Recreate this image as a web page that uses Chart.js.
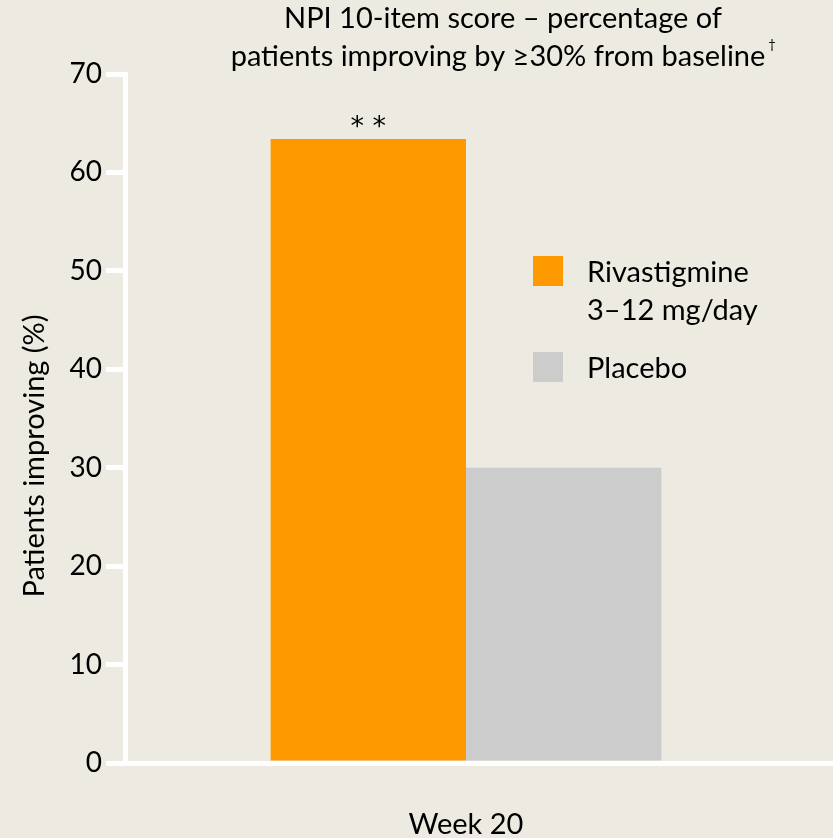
<!DOCTYPE html>
<html>
<head>
<meta charset="utf-8">
<script src="https://cdn.jsdelivr.net/npm/chart.js@4/dist/chart.umd.min.js"></script>
<style>
  html, body { margin: 0; padding: 0; background: #EDEBE1; }
  #wrap { width: 833px; height: 838px; position: relative; }
</style>
</head>
<body>
<div id="wrap"><canvas id="chart" width="833" height="838"></canvas></div>
<script>
// Chart content
const categories = ['Week 20'];
const seriesNames = [['Rivastigmine', '3–12 mg/day'], ['Placebo']];
const rivastigmine = [63.4];
const placebo = [30];
const yTicks = [0, 10, 20, 30, 40, 50, 60, 70];
const titleLines = ['NPI 10-item score – percentage of', 'patients improving by ≥30% from baseline'];
const titleMark = '†';
const significance = ['* *'];
const yTitle = 'Patients improving (%)';

const FONT = 'Lato';
const BG = '#EDEBE1';
const ORANGE = '#FF9900';
const GREY = '#CCCCCC';
const AXIS = '#FFFFFF';

// Same pixel snapping Chart.js uses for its axis borders
function snap(px, width) {
  return Math.round(px - width / 2) + width / 2;
}

// Background, title, axis title, legend, significance stars, axis extension
const decorations = {
  id: 'decorations',
  beforeDraw(chart) {
    const ctx = chart.ctx;
    ctx.save();
    ctx.fillStyle = BG;
    ctx.fillRect(0, 0, chart.width, chart.height);
    ctx.restore();
  },
  afterDraw(chart) {
    const ctx = chart.ctx;
    const area = chart.chartArea;
    ctx.save();

    // x axis line continues to the right edge
    ctx.strokeStyle = AXIS;
    ctx.lineWidth = 5;
    const yb = snap(area.bottom, 5);
    ctx.beginPath();
    ctx.moveTo(area.right - 3, yb);
    ctx.lineTo(chart.width, yb);
    ctx.stroke();

    ctx.fillStyle = '#000';
    ctx.textBaseline = 'middle';

    // Title (two lines) with dagger mark
    ctx.font = `29px ${FONT}`;
    ctx.textAlign = 'center';
    const tcx = 503;
    ctx.fillText(titleLines[0], tcx, 19);
    ctx.fillText(titleLines[1], tcx - 5, 57);
    const w2 = ctx.measureText(titleLines[1]).width;
    ctx.font = `13px ${FONT}`;
    ctx.textAlign = 'left';
    ctx.fillText(titleMark, tcx - 5 + w2 / 2 + 3, 45);

    // Y axis title
    ctx.font = `29px ${FONT}`;
    ctx.save();
    ctx.translate(35, 456);
    ctx.rotate(-Math.PI / 2);
    ctx.textAlign = 'center';
    ctx.fillText(yTitle, 0, 0);
    ctx.restore();

    // Legend
    const colors = chart.data.datasets.map(d => d.backgroundColor);
    const rows = [{ top: 256, lines: seriesNames[0] }, { top: 352, lines: seriesNames[1] }];
    ctx.font = `29px ${FONT}`;
    rows.forEach((r, i) => {
      ctx.fillStyle = colors[i];
      ctx.fillRect(533, r.top, 30, 30);
      ctx.fillStyle = '#000';
      ctx.textAlign = 'left';
      r.lines.forEach((t, j) => ctx.fillText(t, 587, r.top + 17 + j * 38));
    });

    // Significance stars above the rivastigmine bar
    const bar = chart.getDatasetMeta(0).data[0];
    ctx.font = `27px "DejaVu Sans"`;
    ctx.textAlign = 'center';
    ctx.fillText(significance[0], bar.x, bar.y - 11);

    ctx.restore();
  }
};

new Chart(document.getElementById('chart'), {
  type: 'bar',
  data: {
    labels: categories,
    datasets: [
      { label: seriesNames[0].join(' '), data: rivastigmine, backgroundColor: ORANGE },
      { label: seriesNames[1].join(' '), data: placebo, backgroundColor: GREY }
    ]
  },
  options: {
    responsive: false,
    animation: false,
    devicePixelRatio: 1,
    layout: { padding: { top: 74, right: 26, left: 0, bottom: 0 } },
    categoryPercentage: 0.573,
    barPercentage: 1,
    plugins: {
      legend: { display: false },
      title: { display: false },
      tooltip: { enabled: false }
    },
    scales: {
      x: {
        grid: { display: false },
        border: { display: true, color: AXIS, width: 5, z: 1 },
        ticks: { color: '#000', font: { family: FONT, size: 29 }, padding: 36 },
        afterFit(scale) { scale.height = 75; }
      },
      y: {
        min: 0,
        max: 70,
        afterBuildTicks(scale) { scale.ticks = yTicks.map(v => ({ value: v })); },
        grid: {
          drawOnChartArea: false,
          drawTicks: true,
          tickLength: 19,
          tickWidth: 5,
          tickColor: AXIS,
          color: AXIS,
          lineWidth: 5
        },
        border: { display: true, color: AXIS, width: 5, z: 1 },
        ticks: { color: '#000', font: { family: FONT, size: 28 }, padding: 4 },
        afterFit(scale) { scale.width = 125; }
      }
    }
  },
  plugins: [decorations]
});
</script>
</body>
</html>
